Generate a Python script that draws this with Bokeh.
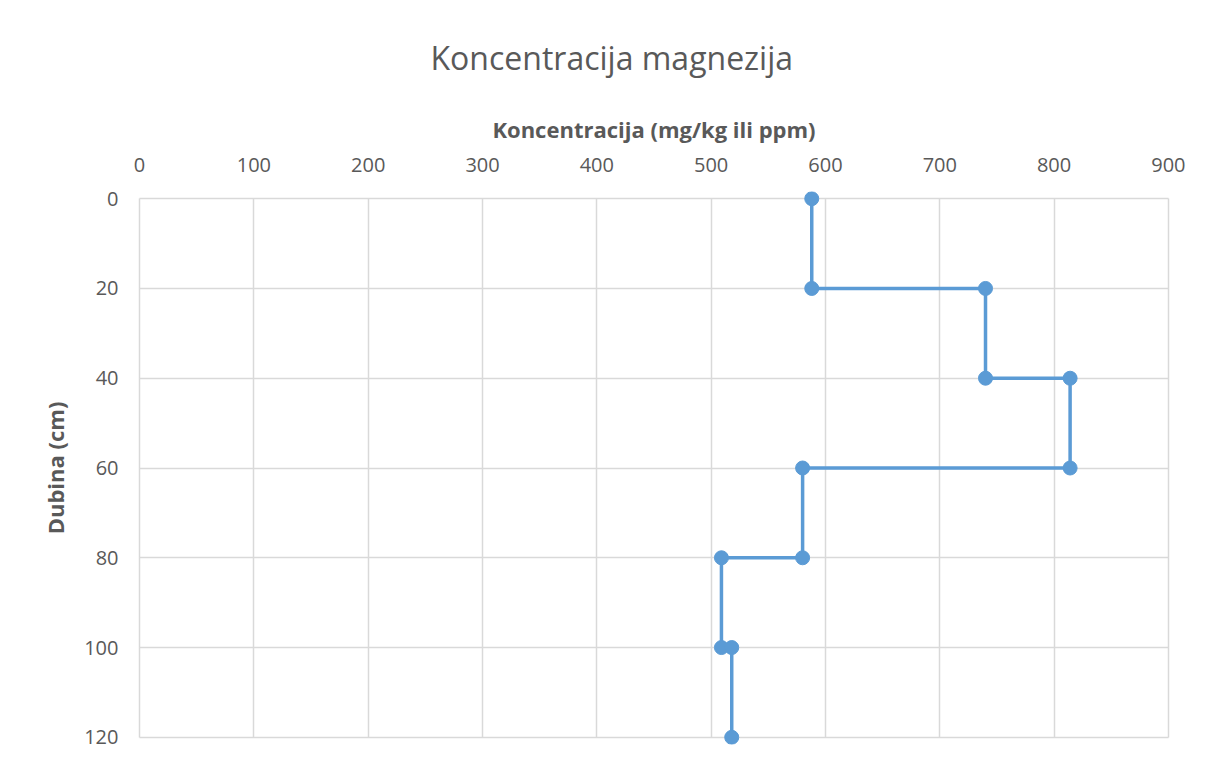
from bokeh.plotting import figure
from bokeh.models import Range1d, FixedTicker, Title
from bokeh.embed import file_html
from bokeh.resources import INLINE

# Data: step profile of magnesium concentration vs depth
concentration = [588, 588, 740, 740, 814, 814, 580, 580, 509, 509, 518, 518]
depth = [0, 20, 20, 40, 40, 60, 60, 80, 80, 100, 100, 120]
x_ticks = [0, 100, 200, 300, 400, 500, 600, 700, 800, 900]
y_ticks = [0, 20, 40, 60, 80, 100, 120]

FONT = "Open Sans"
GREY = "#595959"
BLUE = "#5b9bd5"

XPAD = 6.2   # data units of room for markers at the frame edges
YPAD = 1.6

p = figure(width=1205, height=753, output_backend="svg", toolbar_location=None,
           x_range=Range1d(-XPAD, 900 + XPAD), y_range=Range1d(120 + YPAD, -YPAD),
           x_axis_location="above", min_border_left=132, min_border_right=30,
           min_border_top=191, min_border_bottom=9)

p.title = Title(text="Koncentracija magnezija", align="left", offset=298,
                text_font=FONT, text_font_size="32px", text_font_style="normal",
                text_color=GREY, standoff=60, vertical_align="top")
p.outline_line_color = None

for ax in (p.xaxis[0], p.yaxis[0]):
    ax.axis_line_color = None
    ax.major_tick_line_color = None
    ax.minor_tick_line_color = None
    ax.major_label_text_font = FONT
    ax.major_label_text_font_size = "20px"
    ax.major_label_text_color = GREY
    ax.axis_label_text_font = FONT
    ax.axis_label_text_font_size = "22px"
    ax.axis_label_text_font_style = "bold"
    ax.axis_label_text_color = GREY

p.xaxis[0].ticker = FixedTicker(ticks=x_ticks)
p.yaxis[0].ticker = FixedTicker(ticks=y_ticks)
p.xaxis[0].axis_label = "Koncentracija (mg/kg ili ppm)"
p.yaxis[0].axis_label = "Dubina (cm)"
p.xaxis[0].major_label_standoff = 14
p.yaxis[0].major_label_standoff = 8
p.xaxis[0].axis_label_standoff = 11
p.yaxis[0].axis_label_standoff = 11

p.xgrid.ticker = FixedTicker(ticks=x_ticks)
p.ygrid.ticker = FixedTicker(ticks=y_ticks)
p.xgrid.bounds = (0, 900)
p.ygrid.bounds = (0, 120)
p.xgrid.cross_bounds = (0, 120)
p.ygrid.cross_bounds = (0, 900)
p.grid.grid_line_color = "#d9d9d9"
p.grid.grid_line_width = 1.5

p.line(concentration, depth, line_color=BLUE, line_width=3.5)
p.scatter(concentration, depth, size=14, fill_color=BLUE, line_color=BLUE)

open("out.html", "w").write(file_html(p, INLINE))
